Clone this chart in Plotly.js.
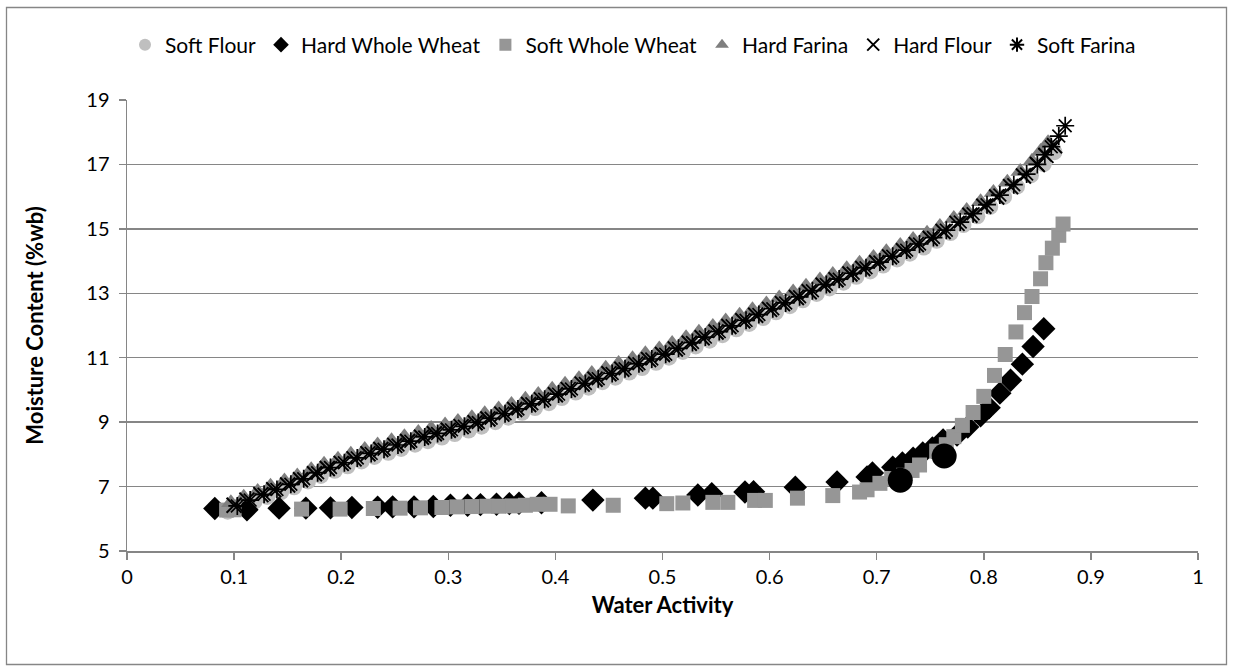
<!DOCTYPE html>
<html><head><meta charset="utf-8">
<script src="https://cdn.plot.ly/plotly-3.0.1.min.js"></script>
<style>html,body{margin:0;padding:0;background:#fff}#chart{width:1233px;height:672px}</style>
</head><body><div id="chart"></div>
<script>
const softFlourX = [0.094,0.106,0.119,0.131,0.144,0.156,0.169,0.181,0.194,0.206,0.219,0.231,0.244,0.256,0.269,0.281,0.294,0.306,0.319,0.331,0.344,0.356,0.369,0.381,0.394,0.406,0.419,0.431,0.444,0.456,0.469,0.481,0.494,0.506,0.519,0.531,0.544,0.556,0.569,0.581,0.594,0.606,0.619,0.631,0.644,0.656,0.669,0.681,0.694,0.706,0.719,0.731,0.744,0.756,0.769,0.781,0.794,0.806,0.819,0.831,0.844,0.856,0.866];
const softFlourY = [6.22,6.36,6.53,6.68,6.83,6.98,7.16,7.33,7.49,7.63,7.78,7.92,8.05,8.17,8.30,8.41,8.52,8.63,8.74,8.86,9.00,9.14,9.29,9.44,9.59,9.75,9.92,10.07,10.24,10.38,10.54,10.68,10.84,11.00,11.18,11.35,11.53,11.70,11.88,12.05,12.23,12.41,12.60,12.78,12.98,13.15,13.33,13.51,13.68,13.86,14.05,14.23,14.42,14.63,14.87,15.12,15.39,15.68,15.99,16.31,16.66,17.01,17.38];

const hardWholeWheatX = [0.082,0.112,0.142,0.167,0.190,0.210,0.234,0.248,0.268,0.286,0.302,0.318,0.330,0.345,0.357,0.366,0.387,0.435,0.484,0.491,0.533,0.546,0.577,0.585,0.624,0.663,0.691,0.696,0.715,0.724,0.734,0.743,0.752,0.762,0.775,0.785,0.797,0.805,0.815,0.825,0.836,0.846,0.856];
const hardWholeWheatY = [6.32,6.28,6.33,6.33,6.34,6.35,6.36,6.37,6.37,6.38,6.42,6.42,6.44,6.45,6.47,6.48,6.50,6.58,6.64,6.64,6.74,6.78,6.83,6.84,6.98,7.14,7.30,7.42,7.60,7.73,7.88,8.04,8.20,8.45,8.60,8.85,9.20,9.45,9.90,10.30,10.80,11.35,11.90];

const softWholeWheatX = [0.093,0.100,0.163,0.199,0.230,0.255,0.274,0.294,0.308,0.322,0.336,0.347,0.360,0.372,0.383,0.395,0.412,0.454,0.504,0.519,0.547,0.561,0.586,0.596,0.626,0.659,0.684,0.691,0.703,0.714,0.725,0.733,0.740,0.756,0.765,0.772,0.780,0.790,0.800,0.810,0.820,0.830,0.838,0.845,0.853,0.858,0.864,0.870,0.874];
const softWholeWheatY = [6.27,6.28,6.30,6.30,6.32,6.33,6.34,6.35,6.37,6.38,6.39,6.39,6.40,6.42,6.45,6.45,6.40,6.42,6.47,6.49,6.51,6.51,6.57,6.57,6.64,6.72,6.83,6.90,7.10,7.25,7.35,7.50,7.67,8.10,8.30,8.55,8.90,9.30,9.80,10.45,11.10,11.80,12.40,12.90,13.45,13.95,14.40,14.80,15.15];

const hardFarinaX = [0.097,0.109,0.122,0.134,0.147,0.159,0.172,0.184,0.197,0.209,0.222,0.234,0.247,0.259,0.272,0.284,0.297,0.309,0.322,0.334,0.347,0.359,0.372,0.384,0.397,0.409,0.422,0.434,0.447,0.459,0.472,0.484,0.497,0.509,0.522,0.534,0.547,0.559,0.572,0.584,0.597,0.609,0.622,0.634,0.647,0.659,0.672,0.684,0.697,0.709,0.722,0.734,0.747,0.759,0.772,0.784,0.797,0.809,0.822,0.834,0.845,0.853,0.860];
const hardFarinaY = [6.50,6.67,6.85,7.01,7.17,7.33,7.52,7.69,7.85,8.00,8.15,8.29,8.42,8.55,8.68,8.80,8.91,9.02,9.14,9.26,9.41,9.55,9.71,9.86,10.02,10.18,10.35,10.51,10.67,10.82,10.97,11.12,11.27,11.44,11.62,11.79,11.97,12.14,12.32,12.49,12.67,12.85,13.04,13.22,13.41,13.58,13.76,13.93,14.11,14.29,14.48,14.67,14.86,15.07,15.32,15.57,15.84,16.13,16.45,16.78,17.10,17.40,17.67];

const hardFlourX = [0.100,0.112,0.125,0.137,0.150,0.162,0.175,0.187,0.200,0.212,0.225,0.237,0.250,0.262,0.275,0.287,0.300,0.312,0.325,0.337,0.350,0.362,0.375,0.387,0.400,0.412,0.425,0.437,0.450,0.462,0.475,0.487,0.500,0.512,0.525,0.537,0.550,0.562,0.575,0.587,0.600,0.612,0.625,0.637,0.650,0.662,0.675,0.687,0.700,0.712,0.725,0.737,0.750,0.762,0.775,0.787,0.800,0.812,0.825,0.837,0.850,0.858,0.866];
const hardFlourY = [6.42,6.58,6.75,6.90,7.05,7.21,7.40,7.56,7.72,7.86,8.02,8.15,8.28,8.40,8.53,8.64,8.75,8.86,8.98,9.10,9.25,9.39,9.55,9.69,9.85,10.01,10.18,10.33,10.50,10.64,10.80,10.94,11.10,11.27,11.45,11.62,11.80,11.97,12.15,12.32,12.50,12.68,12.87,13.05,13.25,13.42,13.60,13.77,13.95,14.13,14.32,14.51,14.70,14.92,15.17,15.42,15.70,15.99,16.31,16.64,17.00,17.28,17.58];

const softFarinaX = [0.103,0.115,0.128,0.140,0.153,0.165,0.178,0.190,0.203,0.215,0.228,0.240,0.253,0.265,0.278,0.290,0.303,0.315,0.328,0.340,0.353,0.365,0.378,0.390,0.403,0.415,0.428,0.440,0.453,0.465,0.478,0.490,0.503,0.515,0.528,0.540,0.553,0.565,0.578,0.590,0.603,0.615,0.628,0.640,0.653,0.665,0.678,0.690,0.703,0.715,0.728,0.740,0.753,0.765,0.778,0.790,0.803,0.815,0.828,0.840,0.850,0.857,0.863,0.870,0.876];
const softFarinaY = [6.40,6.58,6.76,6.91,7.07,7.24,7.43,7.59,7.74,7.89,8.03,8.16,8.29,8.41,8.54,8.65,8.76,8.87,8.99,9.12,9.26,9.41,9.57,9.71,9.87,10.03,10.20,10.35,10.51,10.66,10.81,10.96,11.11,11.29,11.47,11.64,11.81,11.99,12.16,12.34,12.52,12.70,12.89,13.08,13.27,13.44,13.62,13.79,13.97,14.15,14.34,14.53,14.73,14.96,15.21,15.47,15.75,16.05,16.37,16.70,17.00,17.30,17.55,17.88,18.20];

const highlightX = [0.722,0.763];
const highlightY = [7.20,7.95];

const xTickVals = [0,0.1,0.2,0.3,0.4,0.5,0.6,0.7,0.8,0.9,1];
const xTickText = ['0','0.1','0.2','0.3','0.4','0.5','0.6','0.7','0.8','0.9','1'];
const yTickVals = [5,7,9,11,13,15,17,19];

const FONT = 'Lato, "Open Sans", sans-serif';

const traces = [
  {name:'Soft Flour', x:softFlourX, y:softFlourY, type:'scatter', mode:'markers',
   marker:{symbol:'circle', size:16, color:'#BFBFBF'}},
  {name:'Hard Whole Wheat', x:hardWholeWheatX, y:hardWholeWheatY, type:'scatter', mode:'markers',
   marker:{symbol:'diamond', size:18, color:'#000000'}},
  {name:'Soft Whole Wheat', x:softWholeWheatX, y:softWholeWheatY, type:'scatter', mode:'markers',
   marker:{symbol:'square', size:15, color:'#969696'}},
  {name:'Hard Farina', x:hardFarinaX, y:hardFarinaY, type:'scatter', mode:'markers',
   marker:{symbol:'triangle-up', size:17, color:'#7F7F7F'}},
  {name:'Hard Flour', x:hardFlourX, y:hardFlourY, type:'scatter', mode:'markers',
   marker:{symbol:'x-thin-open', size:15, color:'#000000', line:{color:'#000000', width:2}}},
  {name:'Soft Farina', x:softFarinaX, y:softFarinaY, type:'scatter', mode:'markers',
   marker:{symbol:'asterisk-open', size:15, color:'#000000', line:{color:'#000000', width:1.7}}},
  {name:'highlight', x:highlightX, y:highlightY, type:'scatter', mode:'markers', showlegend:false,
   marker:{symbol:'circle', size:25, color:'#000000'}}
];

const L=127, R=1198, T=100, B=551, W=1233, H=672;
const px2x = p => (p-L)/(R-L);
const py2y = p => (B-p)/(B-T);

const layout = {
  width:W, height:H,
  margin:{l:L, r:W-R, t:T, b:H-B, pad:0},
  paper_bgcolor:'#ffffff', plot_bgcolor:'#ffffff',
  font:{family:FONT, size:20, color:'#000'},
  showlegend:true,
  legend:{orientation:'h', x:px2x(633), xanchor:'center', y:py2y(45), yanchor:'middle',
          font:{family:FONT, size:21, color:'#000'}, itemsizing:'constant', tracegroupgap:0,
          itemwidth:30, bgcolor:'rgba(0,0,0,0)'},
  xaxis:{range:[0,1], tickvals:xTickVals, ticktext:xTickText, showgrid:false, zeroline:false,
         showline:true, linecolor:'#868686', linewidth:1.5, ticks:'outside', ticklen:7,
         tickcolor:'#868686', tickwidth:1.5, tickfont:{family:FONT, size:20}, ticklabelstandoff:0,
         title:{text:'<b>Water Activity</b>', font:{family:FONT, size:22}, standoff:11}},
  yaxis:{range:[5,19], tickvals:yTickVals, showgrid:true, gridcolor:'#868686', gridwidth:1.5,
         zeroline:false, showline:true, linecolor:'#868686', linewidth:1.5, ticks:'outside',
         ticklen:7, tickcolor:'#868686', tickwidth:1.5, tickfont:{family:FONT, size:20}, ticklabelstandoff:5,
         title:{text:'<b>Moisture Content (%wb)</b>', font:{family:FONT, size:22}, standoff:36}},
  shapes:[{type:'rect', xref:'paper', yref:'paper', x0:px2x(6.5), x1:px2x(1226.5), y0:py2y(664.5), y1:py2y(7.5),
           line:{color:'#868686', width:1.3}, fillcolor:'rgba(0,0,0,0)', layer:'below'}]
};

Plotly.newPlot('chart', traces, layout, {staticPlot:true, displayModeBar:false});
</script></body></html>
